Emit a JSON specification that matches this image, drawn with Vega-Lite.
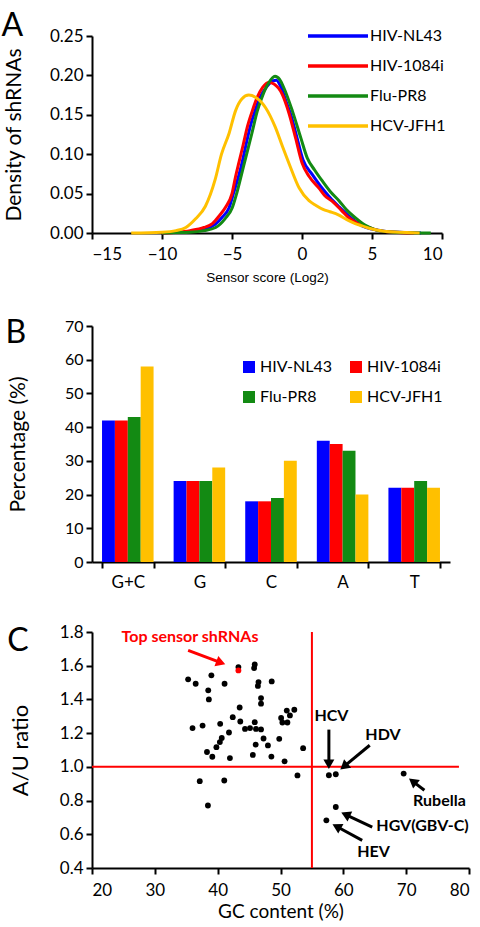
{
  "$schema": "https://vega.github.io/schema/vega-lite/v6.json",
  "padding": {"left": 1, "top": 10, "right": 5, "bottom": 2},
  "background": "white",
  "spacing": 33,
  "datasets": {
    "density": [
      {"series": "HIV-NL43", "x": -10, "y": 0}, {"series": "HIV-NL43", "x": -9, "y": 0.001}, {"series": "HIV-NL43", "x": -8, "y": 0.002}, {"series": "HIV-NL43", "x": -7, "y": 0.005}, {"series": "HIV-NL43", "x": -6.2, "y": 0.011}, {"series": "HIV-NL43", "x": -5.7, "y": 0.02}, {"series": "HIV-NL43", "x": -5.21, "y": 0.032}, {"series": "HIV-NL43", "x": -4.9, "y": 0.05}, {"series": "HIV-NL43", "x": -4.5, "y": 0.074}, {"series": "HIV-NL43", "x": -4.26, "y": 0.091}, {"series": "HIV-NL43", "x": -4.0, "y": 0.112}, {"series": "HIV-NL43", "x": -3.7, "y": 0.135}, {"series": "HIV-NL43", "x": -3.36, "y": 0.155}, {"series": "HIV-NL43", "x": -3.0, "y": 0.172}, {"series": "HIV-NL43", "x": -2.5, "y": 0.186}, {"series": "HIV-NL43", "x": -2.1, "y": 0.193}, {"series": "HIV-NL43", "x": -1.83, "y": 0.194}, {"series": "HIV-NL43", "x": -1.5, "y": 0.185}, {"series": "HIV-NL43", "x": -1.1, "y": 0.165}, {"series": "HIV-NL43", "x": -0.8, "y": 0.15}, {"series": "HIV-NL43", "x": -0.4, "y": 0.124}, {"series": "HIV-NL43", "x": 0.07, "y": 0.093}, {"series": "HIV-NL43", "x": 0.74, "y": 0.074}, {"series": "HIV-NL43", "x": 1.3, "y": 0.06}, {"series": "HIV-NL43", "x": 2.0, "y": 0.045}, {"series": "HIV-NL43", "x": 2.6, "y": 0.034}, {"series": "HIV-NL43", "x": 3.5, "y": 0.019}, {"series": "HIV-NL43", "x": 4.3, "y": 0.009}, {"series": "HIV-NL43", "x": 5, "y": 0.005}, {"series": "HIV-NL43", "x": 6, "y": 0.002}, {"series": "HIV-NL43", "x": 7, "y": 0.001}, {"series": "HIV-NL43", "x": 8.5, "y": 0},
      {"series": "HIV-1084i", "x": -10, "y": 0}, {"series": "HIV-1084i", "x": -9, "y": 0.001}, {"series": "HIV-1084i", "x": -8, "y": 0.003}, {"series": "HIV-1084i", "x": -7, "y": 0.007}, {"series": "HIV-1084i", "x": -6.4, "y": 0.012}, {"series": "HIV-1084i", "x": -5.9, "y": 0.022}, {"series": "HIV-1084i", "x": -5.45, "y": 0.033}, {"series": "HIV-1084i", "x": -5.0, "y": 0.05}, {"series": "HIV-1084i", "x": -4.74, "y": 0.072}, {"series": "HIV-1084i", "x": -4.5, "y": 0.09}, {"series": "HIV-1084i", "x": -4.2, "y": 0.112}, {"series": "HIV-1084i", "x": -3.9, "y": 0.135}, {"series": "HIV-1084i", "x": -3.55, "y": 0.155}, {"series": "HIV-1084i", "x": -3.2, "y": 0.172}, {"series": "HIV-1084i", "x": -2.8, "y": 0.185}, {"series": "HIV-1084i", "x": -2.36, "y": 0.191}, {"series": "HIV-1084i", "x": -2.0, "y": 0.189}, {"series": "HIV-1084i", "x": -1.41, "y": 0.176}, {"series": "HIV-1084i", "x": -0.93, "y": 0.152}, {"series": "HIV-1084i", "x": -0.45, "y": 0.12}, {"series": "HIV-1084i", "x": 0.0, "y": 0.089}, {"series": "HIV-1084i", "x": 0.5, "y": 0.072}, {"series": "HIV-1084i", "x": 1.21, "y": 0.057}, {"series": "HIV-1084i", "x": 1.6, "y": 0.048}, {"series": "HIV-1084i", "x": 2.17, "y": 0.04}, {"series": "HIV-1084i", "x": 2.8, "y": 0.029}, {"series": "HIV-1084i", "x": 3.36, "y": 0.019}, {"series": "HIV-1084i", "x": 4.0, "y": 0.012}, {"series": "HIV-1084i", "x": 4.79, "y": 0.007}, {"series": "HIV-1084i", "x": 5.5, "y": 0.003}, {"series": "HIV-1084i", "x": 6.5, "y": 0.001}, {"series": "HIV-1084i", "x": 8, "y": 0},
      {"series": "Flu-PR8", "x": -10, "y": 0}, {"series": "Flu-PR8", "x": -9, "y": 0.0005}, {"series": "Flu-PR8", "x": -8, "y": 0.001}, {"series": "Flu-PR8", "x": -7, "y": 0.003}, {"series": "Flu-PR8", "x": -6.17, "y": 0.007}, {"series": "Flu-PR8", "x": -5.5, "y": 0.018}, {"series": "Flu-PR8", "x": -4.98, "y": 0.032}, {"series": "Flu-PR8", "x": -4.7, "y": 0.048}, {"series": "Flu-PR8", "x": -4.38, "y": 0.07}, {"series": "Flu-PR8", "x": -4.0, "y": 0.097}, {"series": "Flu-PR8", "x": -3.6, "y": 0.125}, {"series": "Flu-PR8", "x": -3.19, "y": 0.155}, {"series": "Flu-PR8", "x": -2.8, "y": 0.175}, {"series": "Flu-PR8", "x": -2.4, "y": 0.19}, {"series": "Flu-PR8", "x": -1.93, "y": 0.199}, {"series": "Flu-PR8", "x": -1.6, "y": 0.195}, {"series": "Flu-PR8", "x": -1.29, "y": 0.184}, {"series": "Flu-PR8", "x": -0.69, "y": 0.155}, {"series": "Flu-PR8", "x": -0.09, "y": 0.121}, {"series": "Flu-PR8", "x": 0.38, "y": 0.095}, {"series": "Flu-PR8", "x": 0.9, "y": 0.08}, {"series": "Flu-PR8", "x": 1.45, "y": 0.066}, {"series": "Flu-PR8", "x": 2.0, "y": 0.053}, {"series": "Flu-PR8", "x": 2.64, "y": 0.041}, {"series": "Flu-PR8", "x": 3.2, "y": 0.029}, {"series": "Flu-PR8", "x": 3.83, "y": 0.019}, {"series": "Flu-PR8", "x": 4.5, "y": 0.01}, {"series": "Flu-PR8", "x": 5.26, "y": 0.004}, {"series": "Flu-PR8", "x": 6.5, "y": 0.001}, {"series": "Flu-PR8", "x": 9.2, "y": 0},
      {"series": "HCV-JFH1", "x": -12.2, "y": 0}, {"series": "HCV-JFH1", "x": -10, "y": 0.001}, {"series": "HCV-JFH1", "x": -9, "y": 0.003}, {"series": "HCV-JFH1", "x": -8.3, "y": 0.007}, {"series": "HCV-JFH1", "x": -7.6, "y": 0.018}, {"series": "HCV-JFH1", "x": -6.9, "y": 0.034}, {"series": "HCV-JFH1", "x": -6.2, "y": 0.068}, {"series": "HCV-JFH1", "x": -5.75, "y": 0.1}, {"series": "HCV-JFH1", "x": -5.2, "y": 0.127}, {"series": "HCV-JFH1", "x": -4.75, "y": 0.155}, {"series": "HCV-JFH1", "x": -4.3, "y": 0.17}, {"series": "HCV-JFH1", "x": -3.8, "y": 0.175}, {"series": "HCV-JFH1", "x": -3.3, "y": 0.172}, {"series": "HCV-JFH1", "x": -2.6, "y": 0.159}, {"series": "HCV-JFH1", "x": -1.9, "y": 0.134}, {"series": "HCV-JFH1", "x": -1.4, "y": 0.11}, {"series": "HCV-JFH1", "x": -0.9, "y": 0.087}, {"series": "HCV-JFH1", "x": -0.2, "y": 0.057}, {"series": "HCV-JFH1", "x": 0.5, "y": 0.041}, {"series": "HCV-JFH1", "x": 1.0, "y": 0.035}, {"series": "HCV-JFH1", "x": 1.5, "y": 0.03}, {"series": "HCV-JFH1", "x": 2.0, "y": 0.027}, {"series": "HCV-JFH1", "x": 2.6, "y": 0.023}, {"series": "HCV-JFH1", "x": 3.2, "y": 0.017}, {"series": "HCV-JFH1", "x": 3.8, "y": 0.012}, {"series": "HCV-JFH1", "x": 4.3, "y": 0.009}, {"series": "HCV-JFH1", "x": 5, "y": 0.005}, {"series": "HCV-JFH1", "x": 6, "y": 0.002}, {"series": "HCV-JFH1", "x": 7, "y": 0.001}, {"series": "HCV-JFH1", "x": 8.4, "y": 0}
    ],
    "bases": [
      {"base": "G+C", "series": "HIV-NL43", "pct": 42}, {"base": "G+C", "series": "HIV-1084i", "pct": 42}, {"base": "G+C", "series": "Flu-PR8", "pct": 43}, {"base": "G+C", "series": "HCV-JFH1", "pct": 58},
      {"base": "G", "series": "HIV-NL43", "pct": 24}, {"base": "G", "series": "HIV-1084i", "pct": 24}, {"base": "G", "series": "Flu-PR8", "pct": 24}, {"base": "G", "series": "HCV-JFH1", "pct": 28},
      {"base": "C", "series": "HIV-NL43", "pct": 18}, {"base": "C", "series": "HIV-1084i", "pct": 18}, {"base": "C", "series": "Flu-PR8", "pct": 19}, {"base": "C", "series": "HCV-JFH1", "pct": 30},
      {"base": "A", "series": "HIV-NL43", "pct": 36}, {"base": "A", "series": "HIV-1084i", "pct": 35}, {"base": "A", "series": "Flu-PR8", "pct": 33}, {"base": "A", "series": "HCV-JFH1", "pct": 20},
      {"base": "T", "series": "HIV-NL43", "pct": 22}, {"base": "T", "series": "HIV-1084i", "pct": 22}, {"base": "T", "series": "Flu-PR8", "pct": 24}, {"base": "T", "series": "HCV-JFH1", "pct": 22}
    ],
    "scatter": [
      {"gc": 35.3, "au": 1.519, "group": "virus"}, {"gc": 36.5, "au": 1.493, "group": "virus"}, {"gc": 39.0, "au": 1.543, "group": "virus"}, {"gc": 38.5, "au": 1.454, "group": "virus"}, {"gc": 38.6, "au": 1.4, "group": "virus"},
      {"gc": 41.1, "au": 1.493, "group": "virus"}, {"gc": 43.3, "au": 1.592, "group": "virus"}, {"gc": 45.9, "au": 1.607, "group": "virus"}, {"gc": 45.8, "au": 1.586, "group": "virus"}, {"gc": 46.5, "au": 1.503, "group": "virus"},
      {"gc": 46.4, "au": 1.48, "group": "virus"}, {"gc": 48.6, "au": 1.507, "group": "virus"}, {"gc": 46.9, "au": 1.408, "group": "virus"}, {"gc": 46.9, "au": 1.375, "group": "virus"}, {"gc": 43.5, "au": 1.352, "group": "virus"},
      {"gc": 42.4, "au": 1.295, "group": "virus"}, {"gc": 43.6, "au": 1.269, "group": "virus"}, {"gc": 40.4, "au": 1.255, "group": "virus"}, {"gc": 37.6, "au": 1.245, "group": "virus"}, {"gc": 36.0, "au": 1.23, "group": "virus"},
      {"gc": 41.8, "au": 1.204, "group": "virus"}, {"gc": 44.35, "au": 1.225, "group": "virus"}, {"gc": 45.15, "au": 1.23, "group": "virus"}, {"gc": 45.9, "au": 1.265, "group": "virus"}, {"gc": 46.1, "au": 1.225, "group": "virus"},
      {"gc": 46.9, "au": 1.222, "group": "virus"}, {"gc": 40.65, "au": 1.171, "group": "virus"}, {"gc": 40.35, "au": 1.147, "group": "virus"}, {"gc": 39.8, "au": 1.117, "group": "virus"}, {"gc": 38.3, "au": 1.088, "group": "virus"},
      {"gc": 39.15, "au": 1.06, "group": "virus"}, {"gc": 41.95, "au": 1.052, "group": "virus"}, {"gc": 46.05, "au": 1.132, "group": "virus"}, {"gc": 47.3, "au": 1.168, "group": "virus"}, {"gc": 48.0, "au": 1.127, "group": "virus"},
      {"gc": 45.6, "au": 1.071, "group": "virus"}, {"gc": 48.55, "au": 1.061, "group": "virus"}, {"gc": 49.8, "au": 1.166, "group": "virus"}, {"gc": 50.1, "au": 1.29, "group": "virus"}, {"gc": 50.3, "au": 1.263, "group": "virus"},
      {"gc": 51.0, "au": 1.334, "group": "virus"}, {"gc": 51.5, "au": 1.305, "group": "virus"}, {"gc": 51.1, "au": 1.263, "group": "virus"}, {"gc": 52.2, "au": 1.339, "group": "virus"}, {"gc": 53.6, "au": 1.111, "group": "virus"},
      {"gc": 50.65, "au": 1.033, "group": "virus"}, {"gc": 52.7, "au": 0.949, "group": "virus"}, {"gc": 37.15, "au": 0.915, "group": "virus"}, {"gc": 41.05, "au": 0.919, "group": "virus"}, {"gc": 38.45, "au": 0.771, "group": "virus"},
      {"gc": 57.7, "au": 0.95, "group": "virus"}, {"gc": 58.8, "au": 0.956, "group": "virus"}, {"gc": 69.6, "au": 0.96, "group": "virus"}, {"gc": 58.8, "au": 0.762, "group": "virus"}, {"gc": 57.3, "au": 0.683, "group": "virus"},
      {"gc": 43.3, "au": 1.572, "group": "top"}
    ],
    "arrows": [
      {"name": "HCV", "x": 57.7, "y": 1.221, "hx": 57.7, "hy": 1.015, "angle": 180, "color": "black"},
      {"name": "HDV", "x": 64.2, "y": 1.128, "hx": 60.1, "hy": 1.002, "angle": 230, "color": "black"},
      {"name": "Rubella", "x": 72.9, "y": 0.861, "hx": 71.05, "hy": 0.914, "angle": 308, "color": "black"},
      {"name": "HGV(GBV-C)", "x": 64.6, "y": 0.643, "hx": 60.36, "hy": 0.717, "angle": 295, "color": "black"},
      {"name": "HEV", "x": 63.0, "y": 0.564, "hx": 58.94, "hy": 0.646, "angle": 298.5, "color": "black"},
      {"name": "Top sensor shRNAs", "x": 35.3, "y": 1.691, "hx": 40.5, "hy": 1.618, "angle": 110.5, "color": "red"}
    ],
    "labels": [
      {"name": "HCV", "x": 58.1, "y": 1.3, "color": "black"},
      {"name": "HDV", "x": 66.3, "y": 1.187, "color": "black"},
      {"name": "Rubella", "x": 75.3, "y": 0.795, "color": "black"},
      {"name": "HGV(GBV-C)", "x": 72.6, "y": 0.647, "color": "black"},
      {"name": "HEV", "x": 64.8, "y": 0.495, "color": "black"},
      {"name": "Top sensor shRNAs", "x": 35.6, "y": 1.77, "color": "red"}
    ],
    "refs": [
      {"ref": "h", "x": 20, "x2": 78.4, "y": 1.0, "y2": 1.0},
      {"ref": "v", "x": 55, "x2": 55, "y": 0.4, "y2": 1.8}
    ]
  },
  "vconcat": [
    {
      "title": {"text": "A", "anchor": "start", "frame": "bounds", "fontSize": 32, "fontWeight": "normal", "font": "Lato", "offset": -19, "dx": -2},
      "width": 350,
      "height": 197,
      "data": {"name": "density"},
      "mark": {"type": "line", "interpolate": "monotone", "strokeWidth": 3},
      "encoding": {
        "x": {"field": "x", "type": "quantitative", "scale": {"domain": [-15, 10], "nice": false},
          "axis": {"values": [-15, -10, -5, 0, 5, 10], "title": "Sensor score (Log2)", "titleFont": "Liberation Sans", "titleFontSize": 13.5, "titlePadding": 8, "labelFontSize": 17, "labelPadding": 7}},
        "y": {"field": "y", "type": "quantitative", "scale": {"domain": [0, 0.25], "nice": false},
          "axis": {"values": [0, 0.05, 0.1, 0.15, 0.2, 0.25], "format": ".2f", "title": "Density of shRNAs", "titleFontSize": 21, "titlePadding": 25, "labelFontSize": 17}},
        "color": {"field": "series", "type": "nominal",
          "scale": {"domain": ["HIV-NL43", "HIV-1084i", "Flu-PR8", "HCV-JFH1"], "range": ["#0000ff", "#ff0000", "#138a13", "#ffc000"]},
          "legend": {"title": null, "orient": "none", "legendX": 214, "legendY": -12, "symbolType": "M-1,0H5", "symbolSize": 400, "symbolStrokeWidth": 3.5, "labelFontSize": 16, "labelOffset": 40, "rowPadding": 10}},
        "order": {"field": "x", "type": "quantitative"}
      }
    },
    {
      "title": {"text": "B", "anchor": "start", "frame": "bounds", "fontSize": 32, "fontWeight": "normal", "font": "Lato", "offset": -32, "dx": -2},
      "width": 358,
      "height": 236,
      "data": {"name": "bases"},
      "mark": {"type": "bar"},
      "encoding": {
        "x": {"field": "base", "type": "nominal", "sort": ["G+C", "G", "C", "A", "T"], "scale": {"paddingInner": 0.28, "paddingOuter": 0.14},
          "axis": {"title": null, "labelAngle": 0, "tickBand": "extent", "labelFontSize": 17, "labelPadding": 6}},
        "xOffset": {"field": "series", "type": "nominal", "sort": ["HIV-NL43", "HIV-1084i", "Flu-PR8", "HCV-JFH1"], "scale": {"paddingInner": 0}},
        "y": {"field": "pct", "type": "quantitative", "scale": {"domain": [0, 70], "nice": false},
          "axis": {"values": [0, 10, 20, 30, 40, 50, 60, 70], "title": "Percentage (%)", "titleFontSize": 21, "titlePadding": 36, "labelFontSize": 16}},
        "color": {"field": "series", "type": "nominal",
          "scale": {"domain": ["HIV-NL43", "HIV-1084i", "Flu-PR8", "HCV-JFH1"], "range": ["#0000ff", "#ff0000", "#138a13", "#ffc000"]},
          "legend": {"title": null, "orient": "none", "direction": "horizontal", "legendX": 149, "legendY": 33, "columns": 2, "symbolType": "square", "symbolSize": 144, "symbolStrokeWidth": 0, "labelFontSize": 16, "labelOffset": 3, "rowPadding": 14, "columnPadding": 16}}
      }
    },
    {
      "title": {"text": "C", "anchor": "start", "frame": "bounds", "fontSize": 32, "fontWeight": "normal", "font": "Lato", "offset": -35, "dx": -2},
      "width": 377,
      "height": 236,
      "encoding": {
        "x": {"type": "quantitative", "scale": {"domain": [20, 80], "nice": false},
          "axis": {"values": [20, 30, 40, 50, 60, 70, 80], "title": "GC content (%)", "titleFontSize": 19, "titlePadding": 4, "labelFontSize": 17, "labelPadding": 8}},
        "y": {"type": "quantitative", "scale": {"domain": [0.4, 1.8], "nice": false},
          "axis": {"values": [0.4, 0.6, 0.8, 1.0, 1.2, 1.4, 1.6, 1.8], "format": ".1f", "title": "A/U ratio", "titleFontSize": 22, "titlePadding": 27, "labelFontSize": 17}}
      },
      "layer": [
        {
          "data": {"name": "refs"},
          "mark": {"type": "rule", "color": "#ff0000", "strokeWidth": 2},
          "encoding": {"x": {"field": "x"}, "x2": {"field": "x2"}, "y": {"field": "y"}, "y2": {"field": "y2"}}
        },
        {
          "data": {"name": "scatter"},
          "mark": {"type": "point", "filled": true, "opacity": 1, "size": 34, "shape": "circle"},
          "encoding": {"x": {"field": "gc"}, "y": {"field": "au"},
            "color": {"field": "group", "type": "nominal", "scale": {"domain": ["virus", "top"], "range": ["#000000", "#ff0000"]}, "legend": null}}
        },
        {
          "data": {"name": "arrows"},
          "mark": {"type": "rule", "strokeWidth": 3},
          "encoding": {"x": {"field": "x"}, "y": {"field": "y"}, "x2": {"field": "hx"}, "y2": {"field": "hy"},
            "color": {"field": "color", "type": "nominal", "scale": {"domain": ["black", "red"], "range": ["#000000", "#ff0000"]}, "legend": null}}
        },
        {
          "data": {"name": "arrows"},
          "mark": {"type": "point", "shape": "triangle-up", "filled": true, "opacity": 1, "size": 120},
          "encoding": {"x": {"field": "hx"}, "y": {"field": "hy"}, "angle": {"field": "angle", "type": "quantitative", "scale": null},
            "color": {"field": "color", "type": "nominal", "scale": {"domain": ["black", "red"], "range": ["#000000", "#ff0000"]}, "legend": null}}
        },
        {
          "data": {"name": "labels"},
          "mark": {"type": "text", "font": "Lato", "fontWeight": "bold", "fontSize": 16, "align": "center", "baseline": "middle"},
          "encoding": {"x": {"field": "x"}, "y": {"field": "y"}, "text": {"field": "name"},
            "color": {"field": "color", "type": "nominal", "scale": {"domain": ["black", "red"], "range": ["#000000", "#ff0000"]}, "legend": null}}
        }
      ]
    }
  ],
  "resolve": {"scale": {"color": "independent"}},
  "config": {
    "font": "Lato",
    "view": {"stroke": null},
    "axis": {"grid": false, "domainColor": "#000000", "domainWidth": 2, "tickColor": "#000000", "tickWidth": 2, "tickSize": 6, "labelColor": "#000000", "titleColor": "#000000", "labelFont": "Lato", "titleFont": "Lato", "titleFontWeight": "normal", "labelPadding": 3},
    "legend": {"labelFont": "Lato", "labelColor": "#000000"},
    "title": {"color": "#000000"}
  }
}
